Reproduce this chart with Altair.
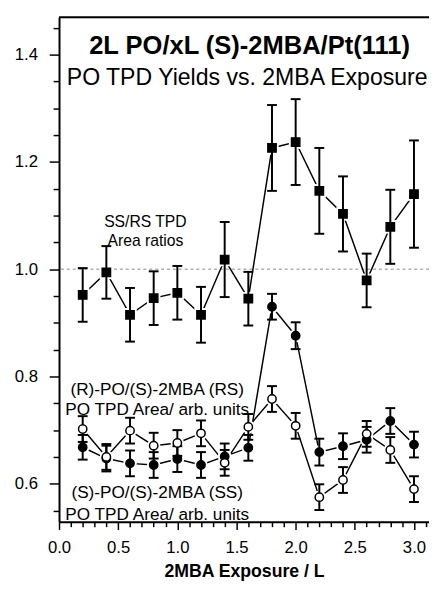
import altair as alt
import pandas as pd

# ---- data ----
exposure = [0.2, 0.4, 0.6, 0.8, 1.0, 1.2, 1.4, 1.6, 1.8, 2.0, 2.2, 2.4, 2.6, 2.8, 3.0]

ratio = [0.952, 0.994, 0.915, 0.946, 0.956, 0.915, 1.018, 0.945, 1.226, 1.237, 1.146, 1.103, 0.979, 1.079, 1.140]
ratio_err = [0.050, 0.049, 0.050, 0.050, 0.050, 0.052, 0.070, 0.050, 0.080, 0.080, 0.080, 0.070, 0.050, 0.069, 0.100]

ss_area = [0.668, 0.647, 0.638, 0.635, 0.646, 0.635, 0.651, 0.667, 0.930, 0.876, 0.659, 0.670, 0.682, 0.717, 0.673]
ss_err = [0.023, 0.024, 0.024, 0.024, 0.024, 0.024, 0.024, 0.024, 0.024, 0.025, 0.025, 0.024, 0.024, 0.024, 0.024]

rs_area = [0.702, 0.650, 0.699, 0.671, 0.676, 0.694, 0.639, 0.706, 0.758, 0.708, 0.575, 0.607, 0.693, 0.663, 0.590]
rs_err = [0.024, 0.024, 0.024, 0.024, 0.024, 0.024, 0.024, 0.024, 0.024, 0.024, 0.024, 0.024, 0.024, 0.024, 0.024]

series_names = ["ratio", "SS", "RS"]
series_shapes = ["square", "circle", "circle"]
series_fills = ["black", "black", "white"]

x_tick_values = [0.0, 0.1, 0.2, 0.3, 0.4, 0.5, 0.6, 0.7, 0.8, 0.9, 1.0, 1.1, 1.2, 1.3, 1.4, 1.5,
                 1.6, 1.7, 1.8, 1.9, 2.0, 2.1, 2.2, 2.3, 2.4, 2.5, 2.6, 2.7, 2.8, 2.9, 3.0, 3.1]
y_tick_values = [0.55, 0.6, 0.65, 0.7, 0.75, 0.8, 0.85, 0.9, 0.95, 1.0, 1.05, 1.1, 1.15,
                 1.2, 1.25, 1.3, 1.35, 1.4, 1.45]

title_text = "2L PO/xL (S)-2MBA/Pt(111)"
subtitle_text = "PO TPD Yields vs. 2MBA Exposure"
ratio_label = ["SS/RS TPD", "Area ratios"]
rs_label = ["(R)-PO/(S)-2MBA (RS)", "PO TPD Area/ arb. units"]
ss_label = ["(S)-PO/(S)-2MBA (SS)", "PO TPD Area/ arb. units"]
x_title = "2MBA Exposure / L"

# ---- table ----
rows = []
for name, vals, errs in [("ratio", ratio, ratio_err), ("SS", ss_area, ss_err), ("RS", rs_area, rs_err)]:
    for xv, yv, ev in zip(exposure, vals, errs):
        rows.append({"series": name, "x": xv, "y": yv, "lo": yv - ev, "hi": yv + ev})
df = pd.DataFrame(rows)

W, H = 377, 514
FONT = "Liberation Sans"

xscale = alt.Scale(domain=[0, 3.127], nice=False, zero=False)
yscale = alt.Scale(domain=[0.5292, 1.4695], nice=False, zero=False)

x_major_test = "abs(datum.value*2 - round(datum.value*2)) < 0.001"
y_major_test = "abs(datum.value*5 - round(datum.value*5)) < 0.001"

xaxis = alt.Axis(
    values=x_tick_values,
    labelExpr=f"({x_major_test}) ? format(datum.value, '.1f') : ''",
    tickSize={"condition": {"test": x_major_test, "value": 8}, "value": 5},
    tickWidth=1.5, tickColor="black",
    domainColor="black", domainWidth=2,
    labelFontSize=17, labelColor="black", labelFont=FONT, labelPadding=10,
    labelFlush=False, labelOverlap=False,
    grid=False, title=x_title, titleFontSize=18, titleFont=FONT,
    titleFontWeight="bold", titleColor="black", titlePadding=8,
)
yaxis = alt.Axis(
    values=y_tick_values,
    labelExpr=f"({y_major_test}) ? format(datum.value, '.1f') : ''",
    tickSize={"condition": {"test": y_major_test, "value": 10}, "value": 6},
    tickWidth=1.5, tickColor="black",
    domainColor="black", domainWidth=2,
    labelFontSize=17, labelColor="black", labelFont=FONT, labelPadding=12,
    labelFlush=False, labelOverlap=False,
    grid=False, title=None,
)

X = alt.X("x:Q", scale=xscale, axis=xaxis)
Y = alt.Y("y:Q", scale=yscale, axis=yaxis)

base = alt.Chart(df)

ref_line = alt.Chart(pd.DataFrame({"v": [1.0]})).mark_rule(
    color="#888888", strokeDash=[3, 3], strokeWidth=1
).encode(y=alt.Y("v:Q", scale=yscale, axis=yaxis))

top_border = alt.Chart(pd.DataFrame({"v": [0]})).mark_rule(
    color="black", strokeWidth=2
).encode(x=alt.value(0), x2=alt.value(W), y=alt.value(0))

lines = base.mark_line(color="black", strokeWidth=1.5).encode(
    x=X, y=Y, detail="series:N", order="x:Q"
)

shape_enc = alt.Shape("series:N", scale=alt.Scale(domain=series_names, range=series_shapes), legend=None)

halo = base.mark_point(filled=True, color="white", opacity=1, size=190).encode(
    x=X, y=Y, shape=shape_enc
)

err_rule = base.mark_rule(color="black", strokeWidth=2).encode(x=X, y=alt.Y("lo:Q", scale=yscale, axis=yaxis), y2="hi:Q")
cap_lo = base.mark_tick(orient="horizontal", size=10, thickness=2, color="black", opacity=1).encode(
    x=X, y=alt.Y("lo:Q", scale=yscale, axis=yaxis))
cap_hi = base.mark_tick(orient="horizontal", size=10, thickness=2, color="black", opacity=1).encode(
    x=X, y=alt.Y("hi:Q", scale=yscale, axis=yaxis))

markers = base.mark_point(filled=True, stroke="black", strokeWidth=1.5, opacity=1, size=72).encode(
    x=X, y=Y, shape=shape_enc,
    fill=alt.Fill("series:N", scale=alt.Scale(domain=series_names, range=series_fills), legend=None),
)

def txt(label, xv, yv, size, weight="normal"):
    d = pd.DataFrame({"t": [label], "x": [xv], "y": [yv]})
    return alt.Chart(d).mark_text(
        font=FONT, fontSize=size, fontWeight=weight, color="black",
        align="center", baseline="alphabetic"
    ).encode(x=alt.X("x:Q", scale=xscale, axis=xaxis), y=alt.Y("y:Q", scale=yscale, axis=yaxis), text="t:N")

texts = [
    txt(title_text, 1.61, 1.401, 26, "bold"),
    txt(subtitle_text, 1.59, 1.344, 23.5),
    txt(ratio_label[0], 0.73, 1.078, 16),
    txt(ratio_label[1], 0.73, 1.044, 16),
    txt(rs_label[0], 0.83, 0.766, 17.5),
    txt(rs_label[1], 0.83, 0.728, 17.5),
    txt(ss_label[0], 0.83, 0.573, 17.5),
    txt(ss_label[1], 0.83, 0.533, 17.5),
]

chart = alt.layer(
    ref_line, top_border, lines, halo, err_rule, cap_lo, cap_hi, markers, *texts
).properties(
    width=W, height=H,
    autosize=alt.AutoSizeParams(type="none"),
    padding={"left": 52, "top": 4, "right": 0, "bottom": 61},
).configure_view(stroke=None).configure(background="white")

chart.save("out.html", embed_options={"renderer": "svg", "actions": False})
